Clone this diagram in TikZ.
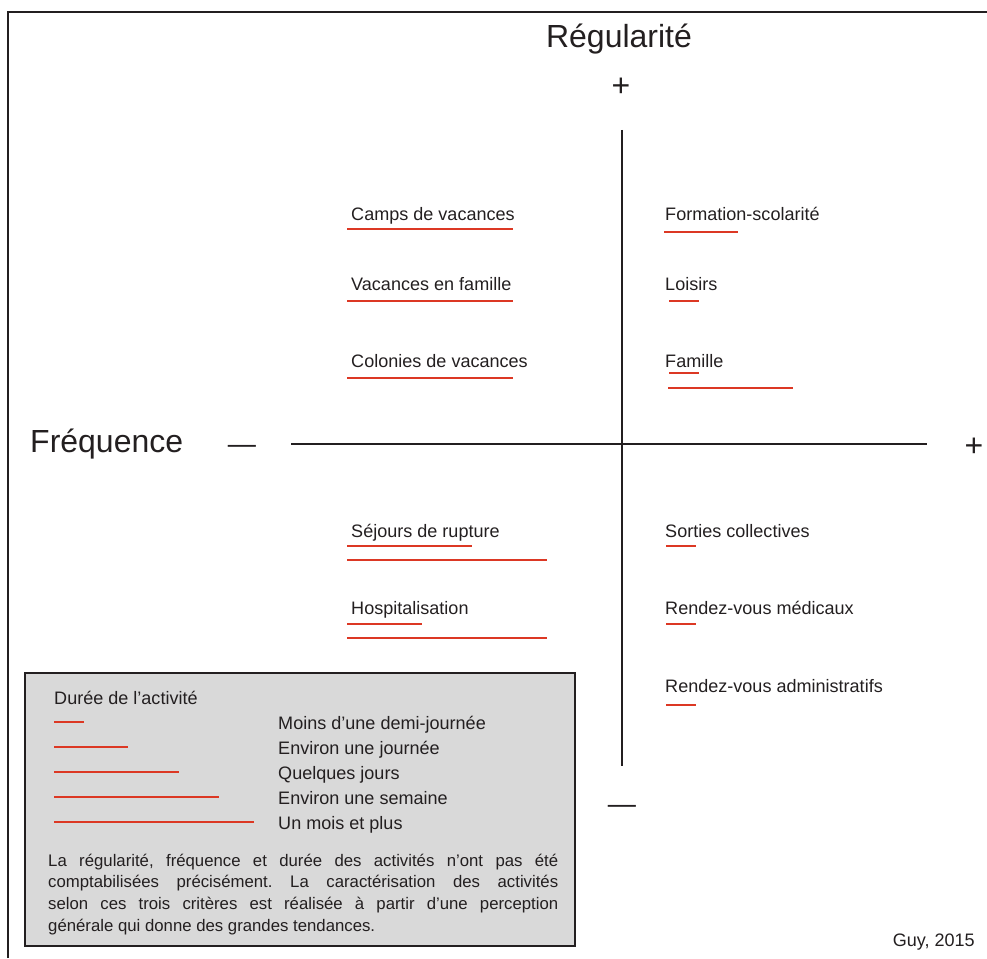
\documentclass[tikz,border=0pt]{standalone}
\usepackage{fontspec}
\setmainfont{Liberation Sans}
\definecolor{encre}{RGB}{35,31,32}
\definecolor{rouge}{RGB}{220,56,36}
\definecolor{fond}{RGB}{217,217,217}
\tikzset{
  axe/.style={draw=encre,line width=1.3pt},
  duree/.style={draw=rouge,line width=1.6pt},
  activite/.style={anchor=base west,inner sep=0pt,text=encre,font=\fontsize{15.4}{18}\selectfont},
  grand/.style={inner sep=0pt,text=encre,font=\fontsize{27.3}{32}\selectfont},
}
\frenchspacing
\begin{document}
\begin{tikzpicture}[x=0.03cm,y=-0.03cm]
	\useasboundingbox (0,0) rectangle (987,958);
	% cadre
	\draw[encre,line width=2pt] (8,958) -- (8,12) -- (987,12);
	% axes
	\coordinate (rhaut) at (622,130);
	\coordinate (rbas) at (622,766);
	\coordinate (fgauche) at (291,444);
	\coordinate (fdroite) at (927,444);
	\draw[axe] (rhaut) -- (rbas);
	\draw[axe] (fgauche) -- (fdroite);
	\node[grand] (regul) at (619,39) {Régularité};
	\node[grand] (rplus) at (621,87) {+};
	\node[grand,anchor=west] (freq) at (30,444) {Fréquence};
	\node[grand] (fplus) at (974,447) {+};
	\node[inner sep=0pt,text=encre,font=\fontsize{24}{28}\selectfont] (fmoins) at (242,449) {—};
	\node[inner sep=0pt,text=encre,font=\fontsize{24}{28}\selectfont] (rmoins) at (622,809) {—};
	% activites, regularite +
	\node[activite] (camps) at (351,220) {Camps de vacances};
	\draw[duree] (347,229) -- (513,229);
	\node[activite] (vacfam) at (351,290) {Vacances en famille};
	\draw[duree] (347,301) -- (513,301);
	\node[activite] (colo) at (351,367) {Colonies de vacances};
	\draw[duree] (347,378) -- (513,378);
	\node[activite] (formation) at (665,220) {Formation-scolarité};
	\draw[duree] (664,232) -- (738,232);
	\node[activite] (loisirs) at (665,290) {Loisirs};
	\draw[duree] (669,301) -- (699,301);
	\node[activite] (famille) at (665,367) {Famille};
	\draw[duree] (669,373) -- (699,373);
	\draw[duree] (668,388) -- (793,388);
	% activites, regularite -
	\node[activite] (sejours) at (351,537) {Séjours de rupture};
	\draw[duree] (347,546) -- (472,546);
	\draw[duree] (347,560) -- (547,560);
	\node[activite] (hospi) at (351,614) {Hospitalisation};
	\draw[duree] (347,624) -- (422,624);
	\draw[duree] (347,638) -- (547,638);
	\node[activite] (sorties) at (665,537) {Sorties collectives};
	\draw[duree] (666,546) -- (696,546);
	\node[activite] (rdvmed) at (665,614) {Rendez-vous médicaux};
	\draw[duree] (666,624) -- (696,624);
	\node[activite] (rdvadm) at (665,692) {Rendez-vous administratifs};
	\draw[duree] (666,705) -- (696,705);
	% legende
	\filldraw[fill=fond,draw=encre,line width=1.6pt] (25,673) rectangle (575,946);
	\node[activite] (legtitre) at (54,704) {Durée de l’activité};
	\foreach \l/\t [count=\i] in {30/Moins d’une demi-journée,74/Environ une journée,125/Quelques jours,165/Environ une semaine,200/Un mois et plus}{
		\draw[duree] (54,{697+25*\i}) -- ++(\l,0);
		\node[activite] (leg\i) at (278,{704+25*\i}) {\t};
	}
	\node[anchor=base west,inner sep=0pt,text=encre,text width=15.3cm,align=justify,font=\fontsize{14.3}{18.5}\selectfont] (note) at (48,866)
		{La régularité, fréquence et durée des activités n’ont pas été\linebreak comptabilisées précisément. La caractérisation des activités\linebreak selon ces trois critères est réalisée à partir d’une perception\linebreak générale qui donne des grandes tendances.};
	\node[activite,anchor=base east] (source) at (975,946) {Guy, 2015};
\end{tikzpicture}
\end{document}
